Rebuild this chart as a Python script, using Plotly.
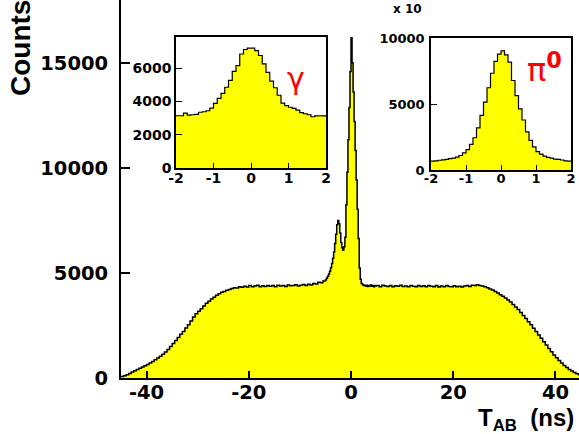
import numpy as np
import plotly.graph_objects as go

# ---------------- data ----------------
# main histogram: three regions with their own bin widths
main_left_range = (-45.0, -5.0)    # 0.5 ns bins
main_left = [70, 110, 160, 220, 280, 340, 400, 460, 520, 580,
             640, 710, 790, 870, 950, 1030, 1130, 1240, 1360, 1500,
             1640, 1780, 1930, 2080, 2220, 2380, 2540, 2720, 2900, 3060,
             3180, 3300, 3430, 3560, 3650, 3760, 3850, 3940, 4010, 4080,
             4120, 4180, 4220, 4260, 4300, 4280, 4350, 4320, 4370, 4330,
             4400, 4340, 4380, 4420, 4350, 4390, 4360, 4410, 4370, 4400,
             4350, 4420, 4380, 4400, 4360, 4430, 4390, 4400, 4440, 4380,
             4420, 4450, 4400, 4470, 4430, 4500, 4480, 4560, 4540, 4620]
main_center_range = (-5.0, 5.0)    # 0.2 ns bins
main_center = [4680, 4760, 4850, 4950, 5080, 5250, 5450, 5700, 6000, 6400,
               6850, 7300, 7500, 7350, 6900, 6450, 6200, 6100, 6250, 6700,
               8250, 9800, 11340, 12880, 14600, 16200, 15010, 13620, 12220, 10830,
               9430, 8030, 6640, 5240, 4700, 4500, 4450, 4400, 4420, 4380,
               4420, 4360, 4400, 4380, 4430, 4370, 4410, 4350, 4400, 4380]
main_right_range = (5.0, 45.0)     # 0.5 ns bins
main_right = [4400, 4350, 4420, 4380, 4360, 4410, 4340, 4390, 4370, 4420,
              4360, 4380, 4340, 4400, 4370, 4350, 4410, 4360, 4390, 4340,
              4400, 4370, 4350, 4400, 4330, 4380, 4350, 4400, 4360, 4340,
              4390, 4350, 4370, 4330, 4380, 4400, 4360, 4420, 4400, 4440,
              4400, 4380, 4340, 4300, 4240, 4190, 4120, 4050, 3970, 3890,
              3810, 3720, 3620, 3500, 3380, 3260, 3120, 2980, 2830, 2680,
              2530, 2370, 2210, 2050, 1890, 1730, 1570, 1410, 1250, 1100,
              960, 830, 710, 600, 500, 410, 330, 260, 200, 150]

# gamma inset: 40 bins from -2 to 2
gamma_range = (-2.0, 2.0)
gamma_counts = [3140, 3140, 3300, 3180, 3200, 3220, 3350, 3380, 3440, 3600,
                3880, 4180, 4480, 4850, 5260, 5800, 6150, 6850, 7120, 7200,
                7200, 7050, 6760, 6250, 5740, 5220, 4820, 4370, 3900, 3750,
                3650, 3580, 3480, 3330, 3260, 3200, 3080, 3130, 3140, 3130]

# pi0 inset (in units of 10 counts): 40 bins from -2 to 2
pi0_range = (-2.0, 2.0)
pi0_counts = [680, 700, 740, 770, 800, 860, 900, 980, 1100, 1300,
              1550, 1950, 2450, 3200, 4150, 5150, 6250, 7350, 8250, 8800,
              9050, 8750, 8200, 6800, 5650, 4650, 3800, 2900, 2250, 1750,
              1400, 1200, 1050, 960, 900, 830, 800, 760, 700, 680]

main_xticks = [-40, -20, 0, 20, 40]
main_yticks = [0, 5000, 10000, 15000]
inset_xticks = [-2, -1, 0, 1, 2]
gamma_yticks = [0, 2000, 4000, 6000]
pi0_yticks = [0, 5000, 10000]


# ---------------- helpers ----------------
def edges(rng, n):
    return np.linspace(rng[0], rng[1], n + 1)


def step_xy(e, v):
    x = list(e)
    y = list(v) + [v[-1]]
    return x, y


def labels(vals):
    return [str(v) for v in vals]


main_edges = np.concatenate([
    edges(main_left_range, len(main_left))[:-1],
    edges(main_center_range, len(main_center))[:-1],
    edges(main_right_range, len(main_right)),
])
main_vals = main_left + main_center + main_right

W, H = 579, 434
FONT = "DejaVu Sans"
FONT2 = "Liberation Sans"
YELLOW = "#ffff00"

fig = go.Figure()

mx, my = step_xy(main_edges, main_vals)
fig.add_trace(go.Scatter(x=mx, y=my, mode="lines", line_shape="hv",
                         line=dict(color="black", width=1.5),
                         fill="tozeroy", fillcolor=YELLOW,
                         xaxis="x", yaxis="y", showlegend=False,
                         hoverinfo="skip"))

gx, gy = step_xy(edges(gamma_range, len(gamma_counts)), gamma_counts)
fig.add_trace(go.Scatter(x=gx, y=gy, mode="lines", line_shape="hv",
                         line=dict(color="black", width=1.2),
                         fill="tozeroy", fillcolor=YELLOW,
                         xaxis="x2", yaxis="y2", showlegend=False,
                         hoverinfo="skip"))

px_, py_ = step_xy(edges(pi0_range, len(pi0_counts)), pi0_counts)
fig.add_trace(go.Scatter(x=px_, y=py_, mode="lines", line_shape="hv",
                         line=dict(color="black", width=1.2),
                         fill="tozeroy", fillcolor=YELLOW,
                         xaxis="x3", yaxis="y3", showlegend=False,
                         hoverinfo="skip"))


def px2x(p):
    return p / W


def px2y(p):
    return 1 - p / H


common = dict(showgrid=False, zeroline=False, showline=True, linecolor="black",
              mirror=True, ticks="inside", tickcolor="black", automargin=False,
              tickmode="array")

fig.update_layout(
    width=W, height=H,
    margin=dict(l=0, r=0, t=0, b=0, autoexpand=False),
    paper_bgcolor="white", plot_bgcolor="white",
    font=dict(family=FONT, color="black", weight="bold"),
    xaxis=dict(domain=[px2x(121), 1.0], range=[-45, 44.6],
               tickvals=main_xticks, ticktext=labels(main_xticks),
               ticklen=7, tickwidth=1.5, linewidth=2,
               tickfont=dict(size=19.5, family=FONT, weight="bold"),
               ticklabelstandoff=-4, **common),
    yaxis=dict(domain=[px2y(378), 1.0], range=[0, 18000],
               tickvals=main_yticks, ticktext=labels(main_yticks),
               ticklen=9, tickwidth=1.5, linewidth=2,
               tickfont=dict(size=19.5, family=FONT, weight="bold"),
               ticklabelstandoff=7, **common),
    xaxis2=dict(domain=[px2x(176), px2x(326)], range=[-2, 2], anchor="y2",
                tickvals=inset_xticks, ticktext=labels(inset_xticks),
                ticklen=5, tickwidth=1, linewidth=1.5,
                tickfont=dict(size=14, family=FONT, weight="bold"),
                ticklabelstandoff=-4, **common),
    yaxis2=dict(domain=[px2y(168), px2y(37)], range=[0, 7870], anchor="x2",
                tickvals=gamma_yticks, ticktext=labels(gamma_yticks),
                ticklen=6, tickwidth=1, linewidth=1.5,
                tickfont=dict(size=14, family=FONT, weight="bold"),
                ticklabelstandoff=0, **common),
    xaxis3=dict(domain=[px2x(431), px2x(571)], range=[-2, 2], anchor="y3",
                tickvals=inset_xticks, ticktext=labels(inset_xticks),
                ticklen=5, tickwidth=1, linewidth=1.5,
                tickfont=dict(size=13, family=FONT, weight="bold"),
                ticklabelstandoff=-4, **common),
    yaxis3=dict(domain=[px2y(170), px2y(38)], range=[0, 10030], anchor="x3",
                tickvals=pi0_yticks, ticktext=labels(pi0_yticks),
                ticklen=6, tickwidth=1, linewidth=1.5,
                tickfont=dict(size=13, family=FONT, weight="bold"),
                ticklabelstandoff=2, **common),
)

ann = []
ann.append(dict(text="Counts", x=px2x(21), y=px2y(48), xref="paper", yref="paper",
                textangle=-90, showarrow=False, xanchor="center", yanchor="middle",
                font=dict(size=28, family=FONT2, weight="bold")))
ann.append(dict(text="T<sub>AB</sub>  (ns)", x=px2x(576), y=px2y(419.5),
                xref="paper", yref="paper", showarrow=False,
                xanchor="right", yanchor="middle",
                font=dict(size=24, family=FONT2, weight="bold")))
ann.append(dict(text="x 10", x=px2x(408), y=px2y(9), xref="paper", yref="paper",
                showarrow=False, xanchor="center", yanchor="middle",
                font=dict(size=12, family=FONT, weight="bold")))
ann.append(dict(text="γ", x=px2x(296), y=px2y(78), xref="paper", yref="paper",
                showarrow=False, xanchor="center", yanchor="middle",
                font=dict(size=30, family=FONT, color="red", weight="normal")))
ann.append(dict(text="π<sup><b>0</b></sup>", x=px2x(544), y=px2y(68),
                xref="paper", yref="paper", showarrow=False,
                xanchor="center", yanchor="middle",
                font=dict(size=32, family=FONT, color="red", weight="normal")))
fig.update_layout(annotations=ann)

fig.write_html("out.html",
               config={"displayModeBar": False},
               post_script="document.body.style.margin='0';"
                           "document.body.style.overflow='hidden';")
